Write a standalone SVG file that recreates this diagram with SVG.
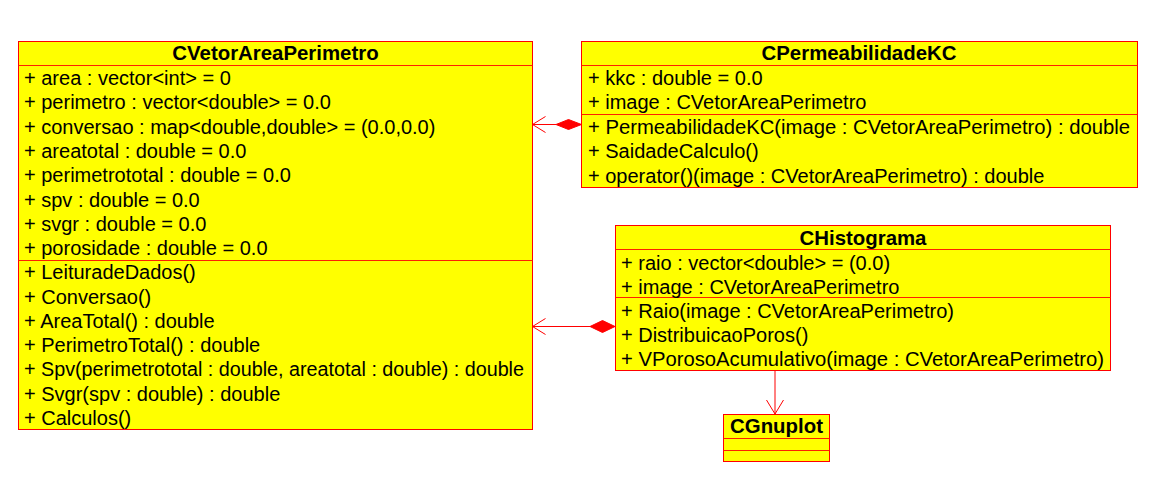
<svg xmlns="http://www.w3.org/2000/svg" width="1155" height="478" viewBox="0 0 1155 478">
<style>
.box{fill:#ffff00;stroke:#ff0000;stroke-width:1}
.div{stroke:#ff2000;stroke-width:1;fill:none}
.t{font-family:"Liberation Sans",Arial,sans-serif;font-size:20px;fill:#000}
.h{font-family:"Liberation Sans",Arial,sans-serif;font-size:20.4px;font-weight:bold;fill:#000;text-anchor:middle}
.ln{stroke:#ff0000;stroke-width:1;fill:none}
.dia{fill:#ff0000;stroke:#ff0000;stroke-width:1}
</style>
<rect width="1155" height="478" fill="#ffffff"/>
<g id="connectors">
  <line class="ln" x1="532.5" y1="124.5" x2="556" y2="124.5"/>
  <polyline class="ln" points="545.5,116.5 532.5,124.5 545.5,132.5"/>
  <polygon class="dia" points="556,124.5 568.5,119.5 581.5,124.5 568.5,129.5"/>
  <line class="ln" x1="532.5" y1="326.5" x2="590" y2="326.5"/>
  <polyline class="ln" points="545.5,318.5 532.5,326.5 545.5,334.5"/>
  <polygon class="dia" points="590,326.5 602.5,320.5 615,326.5 602.5,332.5"/>
  <line x1="775" y1="370" x2="775" y2="414" stroke="#ff0000" stroke-width="1"/>
  <polyline points="766.5,400 775,414 783.5,400" stroke="#ff0000" stroke-width="1" fill="none"/>
</g>
<g id="CVetorAreaPerimetro">
  <rect class="box" x="18.5" y="41.5" width="514" height="388"/>
  <line class="div" x1="18.5" y1="65.5" x2="532.5" y2="65.5"/>
  <line class="div" x1="18.5" y1="260.5" x2="532.5" y2="260.5"/>
  <text class="h" x="275.5" y="59.5">CVetorAreaPerimetro</text>
  <text class="t" x="24" y="85">+ area : vector&lt;int&gt; = 0</text>
  <text class="t" x="24" y="109.3">+ perimetro : vector&lt;double&gt; = 0.0</text>
  <text class="t" x="24" y="133.6">+ conversao : map&lt;double,double&gt; = (0.0,0.0)</text>
  <text class="t" x="24" y="157.9">+ areatotal : double = 0.0</text>
  <text class="t" x="24" y="182.2">+ perimetrototal : double = 0.0</text>
  <text class="t" x="24" y="206.5">+ spv : double = 0.0</text>
  <text class="t" x="24" y="230.8">+ svgr : double = 0.0</text>
  <text class="t" x="24" y="255.1">+ porosidade : double = 0.0</text>
  <text class="t" x="24" y="279.2">+ LeituradeDados()</text>
  <text class="t" x="24" y="303.5">+ Conversao()</text>
  <text class="t" x="24" y="327.8">+ AreaTotal() : double</text>
  <text class="t" x="24" y="352.1">+ PerimetroTotal() : double</text>
  <text class="t" x="24" y="376.4" textLength="500" lengthAdjust="spacingAndGlyphs">+ Spv(perimetrototal : double, areatotal : double) : double</text>
  <text class="t" x="24" y="400.7">+ Svgr(spv : double) : double</text>
  <text class="t" x="24" y="425">+ Calculos()</text>
</g>
<g id="CPermeabilidadeKC">
  <rect class="box" x="581.5" y="41.5" width="556" height="146"/>
  <line class="div" x1="581.5" y1="65.5" x2="1137.5" y2="65.5"/>
  <line class="div" x1="581.5" y1="114.5" x2="1137.5" y2="114.5"/>
  <text class="h" x="859" y="59.5">CPermeabilidadeKC</text>
  <text class="t" x="588" y="85">+ kkc : double = 0.0</text>
  <text class="t" x="588" y="109.3">+ image : CVetorAreaPerimetro</text>
  <text class="t" x="588" y="134" textLength="542" lengthAdjust="spacingAndGlyphs">+ PermeabilidadeKC(image : CVetorAreaPerimetro) : double</text>
  <text class="t" x="588" y="158.3">+ SaidadeCalculo()</text>
  <text class="t" x="588" y="182.6">+ operator()(image : CVetorAreaPerimetro) : double</text>
</g>
<g id="CHistograma">
  <rect class="box" x="615.5" y="225.5" width="495" height="145"/>
  <line class="div" x1="615.5" y1="249.5" x2="1110.5" y2="249.5"/>
  <line class="div" x1="615.5" y1="297.5" x2="1110.5" y2="297.5"/>
  <text class="h" x="863" y="244.5">CHistograma</text>
  <text class="t" x="621" y="269.5">+ raio : vector&lt;double&gt; = (0.0)</text>
  <text class="t" x="621" y="293.7">+ image : CVetorAreaPerimetro</text>
  <text class="t" x="621" y="317.7">+ Raio(image : CVetorAreaPerimetro)</text>
  <text class="t" x="621" y="342">+ DistribuicaoPoros()</text>
  <text class="t" x="621" y="366.3" textLength="483" lengthAdjust="spacingAndGlyphs">+ VPorosoAcumulativo(image : CVetorAreaPerimetro)</text>
</g>
<g id="CGnuplot">
  <rect class="box" x="723.5" y="414.5" width="106" height="47"/>
  <line class="div" x1="723.5" y1="438.5" x2="829.5" y2="438.5"/>
  <line class="div" x1="723.5" y1="450.5" x2="829.5" y2="450.5"/>
  <text class="h" x="776.5" y="433">CGnuplot</text>
</g>
</svg>
